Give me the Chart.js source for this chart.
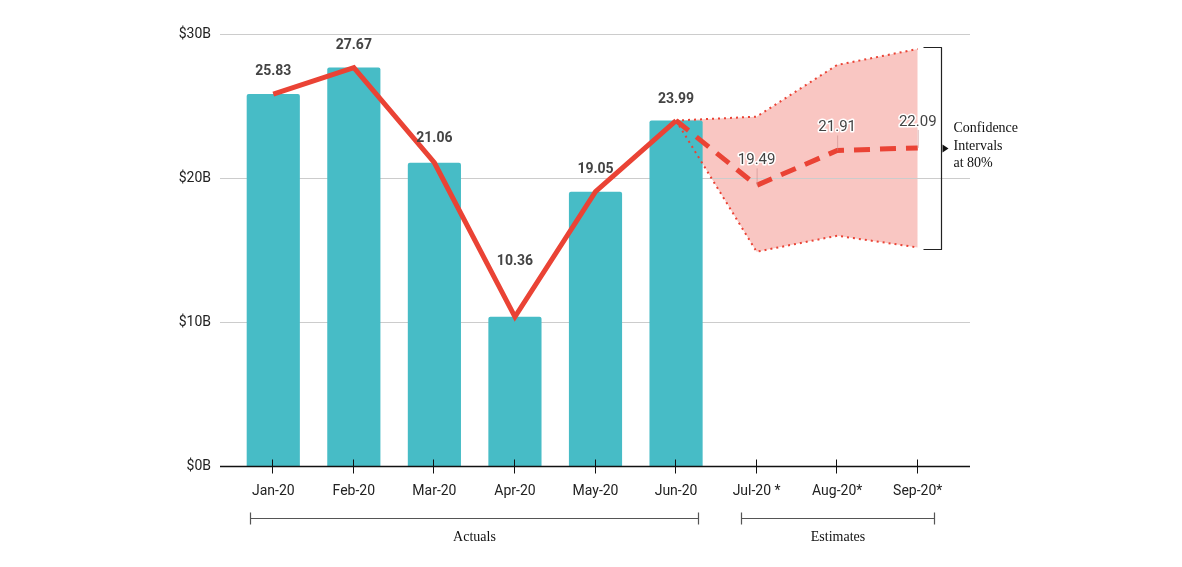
<!DOCTYPE html>
<html>
<head>
<meta charset="utf-8">
<script src="https://cdn.jsdelivr.net/npm/chart.js@4"></script>
<style>
  html, body { margin: 0; padding: 0; background: #fff; }
  #wrap { width: 1182px; height: 567px; }
</style>
</head>
<body>
<div id="wrap"><canvas id="chart"></canvas></div>
<script>
// ---- data ----
const months = ["Jan-20", "Feb-20", "Mar-20", "Apr-20", "May-20", "Jun-20", "Jul-20 *", "Aug-20*", "Sep-20*"];
const actuals = [25.83, 27.67, 21.06, 10.36, 19.05, 23.99, null, null, null];
const forecast = [null, null, null, null, null, 23.99, 19.49, 21.91, 22.09];
const upperCI = [null, null, null, null, null, 23.99, 24.26, 27.85, 28.96];
const lowerCI = [null, null, null, null, null, 23.99, 14.88, 15.99, 15.18];
const yTicks = [0, 10, 20, 30];

const RED = "#EA4335";
const TEAL = "#47BCC6";

// label offsets above the point (px)
const actualOff = [23, 22, 24, 55, 22, 21];
const forecastOff = [0, 0, 0, 0, 0, 0, 25, 23, 26];

// ---- custom drawing: grid, axis, labels, brackets ----
const decor = {
  id: "decor",
  beforeDatasetsDraw(chart) {
    const { ctx, chartArea: a, scales: { y } } = chart;
    ctx.save();
    ctx.strokeStyle = "#cccccc";
    ctx.lineWidth = 1;
    yTicks.forEach(t => {
      if (t === 0) return;
      const py = Math.round(y.getPixelForValue(t)) + 0.5;
      ctx.beginPath();
      ctx.moveTo(a.left - 13, py);
      ctx.lineTo(a.right + 12, py);
      ctx.stroke();
    });
    ctx.restore();
  },
  afterDatasetsDraw(chart) {
    const { ctx, chartArea: a, scales: { x, y } } = chart;
    ctx.save();

    // baseline + ticks
    const by = Math.round(y.getPixelForValue(0)) + 0.5;
    ctx.strokeStyle = "#111";
    ctx.lineWidth = 1.5;
    ctx.beginPath();
    ctx.moveTo(a.left - 13, by);
    ctx.lineTo(a.right + 12, by);
    ctx.stroke();
    ctx.lineWidth = 1;
    months.forEach((m, i) => {
      const px = Math.round(x.getPixelForValue(i)) - 0.5;
      ctx.beginPath();
      ctx.moveTo(px, by - 7);
      ctx.lineTo(px, by + 7);
      ctx.stroke();
    });

    // actual labels
    ctx.textAlign = "center";
    ctx.textBaseline = "middle";
    ctx.font = "bold 14px Roboto";
    ctx.fillStyle = "#444";
    actuals.forEach((v, i) => {
      if (v === null) return;
      ctx.fillText(v.toFixed(2), x.getPixelForValue(i), y.getPixelForValue(v) - actualOff[i]);
    });

    // forecast labels with leader lines and halo
    ctx.font = "15px Roboto";
    forecast.forEach((v, i) => {
      if (v === null || i <= 5) return;
      const px = x.getPixelForValue(i);
      const py = y.getPixelForValue(v);
      const ly = py - forecastOff[i];
      ctx.strokeStyle = "rgba(200,140,140,0.6)";
      ctx.lineWidth = 1;
      ctx.beginPath();
      ctx.moveTo(px + 0.5, ly + 8);
      ctx.lineTo(px + 0.5, py);
      ctx.stroke();
      ctx.lineJoin = "round";
      ctx.strokeStyle = "#fff";
      ctx.lineWidth = 3;
      ctx.strokeText(v.toFixed(2), px, ly);
      ctx.fillStyle = "#444";
      ctx.fillText(v.toFixed(2), px, ly);
    });

    // confidence bracket on right
    const last = months.length - 1;
    const topY = Math.round(y.getPixelForValue(upperCI[last])) - 1.5;
    const botY = Math.round(y.getPixelForValue(lowerCI[last])) + 2.5;
    const bx = Math.round(x.getPixelForValue(last)) + 23.5;
    ctx.strokeStyle = "#222";
    ctx.lineWidth = 1.2;
    ctx.beginPath();
    ctx.moveTo(bx - 18, topY);
    ctx.lineTo(bx, topY);
    ctx.lineTo(bx, botY);
    ctx.lineTo(bx - 18, botY);
    ctx.stroke();
    const my = (topY + botY) / 2;
    ctx.fillStyle = "#111";
    ctx.beginPath();
    ctx.moveTo(bx + 1, my - 4);
    ctx.lineTo(bx + 7, my);
    ctx.lineTo(bx + 1, my + 4);
    ctx.closePath();
    ctx.fill();
    ctx.font = "14px 'Liberation Serif'";
    ctx.textAlign = "left";
    ctx.fillStyle = "#111";
    ["Confidence", "Intervals", "at 80%"].forEach((t, k) => {
      ctx.fillText(t, bx + 12, my - 20 + k * 17.5);
    });

    // period brackets at the bottom
    const groups = [
      { text: "Actuals", from: 0, to: 5, l: 23, r: 22 },
      { text: "Estimates", from: 6, to: 8, l: 16, r: 16 }
    ];
    const gy = 518.5;
    ctx.strokeStyle = "#555";
    ctx.lineWidth = 1.2;
    groups.forEach(g => {
      const x0 = Math.round(x.getPixelForValue(g.from) - g.l) + 0.5;
      const x1 = Math.round(x.getPixelForValue(g.to) + g.r) + 0.5;
      ctx.beginPath();
      ctx.moveTo(x0, gy - 6); ctx.lineTo(x0, gy + 6);
      ctx.moveTo(x0, gy); ctx.lineTo(x1, gy);
      ctx.moveTo(x1, gy - 6); ctx.lineTo(x1, gy + 6);
      ctx.stroke();
      ctx.textAlign = "center";
      ctx.fillStyle = "#111";
      ctx.fillText(g.text, (x0 + x1) / 2, gy + 19);
    });

    ctx.restore();
  }
};

new Chart(document.getElementById("chart"), {
  data: {
    labels: months,
    datasets: [
      {
        type: "line", data: actuals, borderColor: RED, borderWidth: 5,
        pointRadius: 0, tension: 0, order: 1
      },
      {
        type: "line", data: forecast, borderColor: RED, borderWidth: 5,
        borderDash: [16, 10], pointRadius: 0, tension: 0, order: 1
      },
      {
        type: "line", data: upperCI, borderColor: RED, borderWidth: 2,
        borderDash: [2, 4], pointRadius: 0, tension: 0, order: 2,
        fill: "+1", backgroundColor: "rgba(234,67,53,0.3)"
      },
      {
        type: "line", data: lowerCI, borderColor: RED, borderWidth: 2,
        borderDash: [2, 4], pointRadius: 0, tension: 0, order: 2, fill: false
      },
      {
        type: "bar", data: actuals, backgroundColor: TEAL,
        barPercentage: 0.66, categoryPercentage: 1, borderRadius: 2, order: 3
      }
    ]
  },
  options: {
    responsive: true,
    maintainAspectRatio: false,
    animation: false,
    events: [],
    layout: { padding: { top: 34, right: 224, bottom: 0, left: 0 } },
    plugins: {
      legend: { display: false },
      tooltip: { enabled: false },
      filler: { drawTime: "beforeDatasetsDraw" }
    },
    scales: {
      x: {
        grid: { display: false, drawTicks: false },
        border: { display: false },
        ticks: { color: "#222", font: { family: "Roboto", size: 14 }, padding: 17, maxRotation: 0, autoSkip: false },
        afterFit(s) { s.height = 101; }
      },
      y: {
        min: 0, max: 30,
        grid: { display: false, drawTicks: false },
        border: { display: false },
        afterBuildTicks(s) { s.ticks = yTicks.map(v => ({ value: v })); },
        ticks: {
          color: "#222", font: { family: "Roboto", size: 14 }, padding: 22,
          callback: v => "$" + v + "B"
        },
        afterFit(s) { s.width = 233; }
      }
    }
  },
  plugins: [decor]
});
</script>
</body>
</html>
